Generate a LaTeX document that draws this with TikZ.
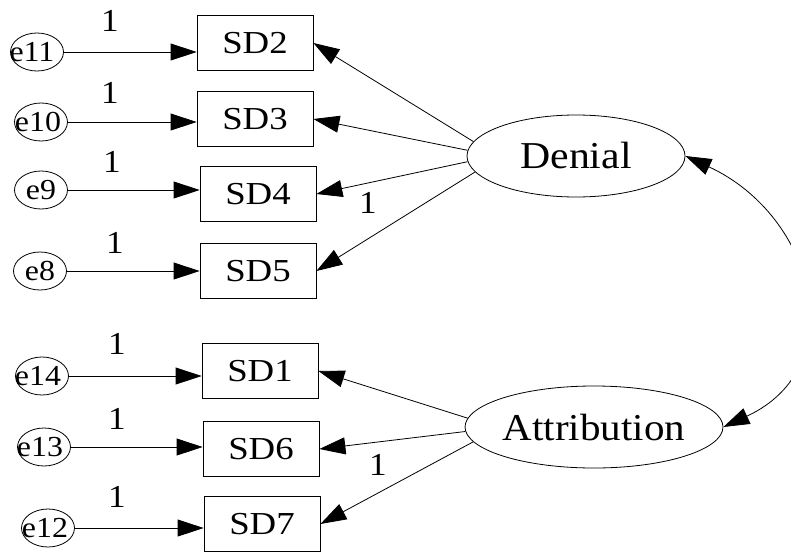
\documentclass[tikz,border=0pt]{standalone}
\usepackage{fontspec}
\usepackage{graphicx}
\setmainfont{Liberation Serif}
\usetikzlibrary{shapes.geometric,arrows.meta}
% horizontally widened text
\newcommand{\wide}[2]{\scalebox{#1}[1]{#2}}
% error label, pulled slightly left inside its ellipse
\newcommand{\errtext}[2]{\makebox[0pt]{\hspace*{#1}\wide{1.1}{#2}}}

\begin{document}
\begin{tikzpicture}[x=1pt,y=-1pt,
  errnode/.style={draw, ellipse, line width=0.8pt, minimum width=53pt, minimum height=38pt,
    inner sep=0pt, font=\fontsize{29}{33}\selectfont},
  obsbox/.style={draw, rectangle, line width=0.8pt, minimum width=116pt, minimum height=55pt,
    inner sep=0pt, font=\fontsize{32}{37}\selectfont},
  latent/.style={draw, ellipse, line width=0.8pt, minimum width=218pt, minimum height=82pt,
    inner sep=0pt, font=\fontsize{38}{44}\selectfont},
  loadarrow/.style={-{Triangle[length=26pt,width=17pt]}, line width=0.8pt},
  covarrow/.style={{Triangle[length=26pt,width=17pt]}-{Triangle[length=26pt,width=17pt]}, line width=0.8pt},
  onelabel/.style={inner sep=0pt, font=\fontsize{32}{37}\selectfont}
]
\useasboundingbox (0,0) rectangle (791,551);

% observed indicators
\node[obsbox] (SD2) at (255,43)  {\wide{1.15}{SD2}};
\node[obsbox] (SD3) at (255,119) {\wide{1.15}{SD3}};
\node[obsbox] (SD4) at (258,194) {\wide{1.15}{SD4}};
\node[obsbox] (SD5) at (258,271) {\wide{1.15}{SD5}};
\node[obsbox] (SD1) at (260,371) {\wide{1.15}{SD1}};
\node[obsbox] (SD6) at (261,449) {\wide{1.15}{SD6}};
\node[obsbox] (SD7) at (262,524) {\wide{1.15}{SD7}};

% error terms
\node[errnode] (e11) at (37,52)  {\errtext{-10pt}{e11}};
\node[errnode] (e10) at (41,122) {\errtext{-6pt}{e10}};
\node[errnode] (e9)  at (41,190) {\errtext{0pt}{e9}};
\node[errnode] (e8)  at (40,271) {\errtext{0pt}{e8}};
\node[errnode] (e14) at (42,376) {\errtext{-8pt}{e14}};
\node[errnode] (e13) at (44,447) {\errtext{-8pt}{e13}};
\node[errnode] (e12) at (48,528) {\errtext{-6pt}{e12}};

% latent factors
\node[latent] (Denial)      at (576,156) {\wide{1.1}{Denial}};
\node[latent] (Attribution) at (594,427) {\wide{1.08}{Attribution}};

% error paths
\draw[loadarrow] (e11) -- (e11 -| SD2.west);
\draw[loadarrow] (e10) -- (e10 -| SD3.west);
\draw[loadarrow] (e9)  -- (e9 -| SD4.west);
\draw[loadarrow] (e8)  -- (e8 -| SD5.west);
\draw[loadarrow] (e14) -- (e14 -| SD1.west);
\draw[loadarrow] (e13) -- (e13 -| SD6.west);
\draw[loadarrow] (e12) -- (e12 -| SD7.west);

% factor loadings
\draw[loadarrow] (Denial.172) -- (SD2.east);
\draw[loadarrow] (Denial.177) -- (SD3.east);
\draw[loadarrow] (Denial.183) -- (SD4.east);
\draw[loadarrow] (Denial.189) -- (SD5.east);
\draw[loadarrow] (Attribution.176) -- (SD1.east);
\draw[loadarrow] (Attribution.182) -- (SD6.east);
\draw[loadarrow] (Attribution.187) -- (SD7.east);

% factor covariance
\draw[covarrow] (Denial.east) .. controls +(130,60) and +(130,-60) .. (Attribution.east);

% fixed path coefficients
\node[onelabel] (w11) at (110,21)  {\wide{1.1}{1}};
\node[onelabel] (w10) at (110,93)  {\wide{1.1}{1}};
\node[onelabel] (w9)  at (112,162) {\wide{1.1}{1}};
\node[onelabel] (w8)  at (115,243) {\wide{1.1}{1}};
\node[onelabel] (w14) at (117,344) {\wide{1.1}{1}};
\node[onelabel] (w13) at (117,419) {\wide{1.1}{1}};
\node[onelabel] (w12) at (117,497) {\wide{1.1}{1}};
\node[onelabel] (wD)  at (368,203) {\wide{1.1}{1}};
\node[onelabel] (wA)  at (378,465) {\wide{1.1}{1}};
\end{tikzpicture}
\end{document}
